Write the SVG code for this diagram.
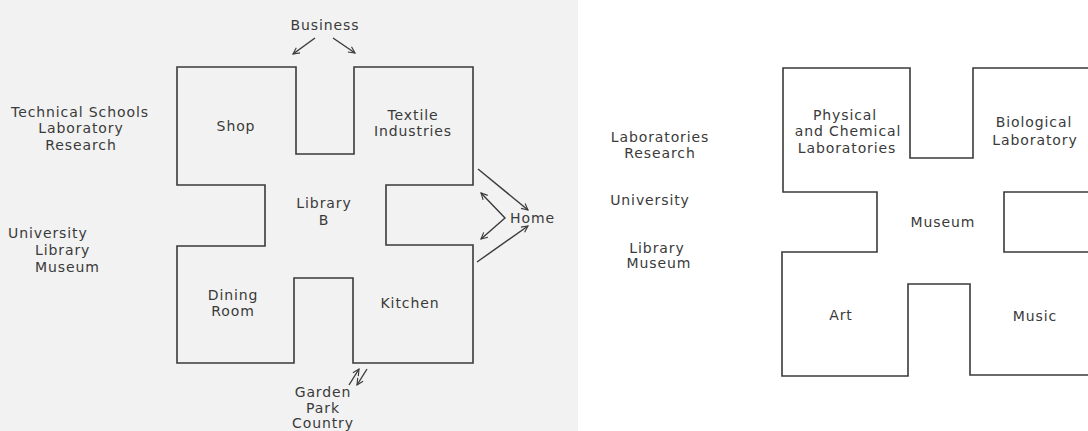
<svg xmlns="http://www.w3.org/2000/svg" width="1088" height="431" viewBox="0 0 1088 431">
<style>
.wall{fill:none;stroke:#3a3a3a;stroke-width:1.6;stroke-linejoin:miter}
.t{font-family:"DejaVu Sans","Noto Sans",sans-serif;font-size:14px;letter-spacing:0.9px;fill:#3a3a3a;text-anchor:middle;dominant-baseline:central}
.tl{text-anchor:start}
.c{fill:none;stroke:#3a3a3a;stroke-width:1.4}
</style>
<defs>
<marker id="ah" viewBox="0 0 10 10" refX="9" refY="5" markerWidth="8" markerHeight="8" markerUnits="userSpaceOnUse" orient="auto-start-reverse">
<path d="M1,1 L9,5 L1,9" fill="none" stroke="#3a3a3a" stroke-width="1.4"/>
</marker>
</defs>
<rect x="0" y="0" width="1088" height="431" fill="#ffffff"/>
<rect x="0" y="0" width="578" height="431" fill="#f2f2f2"/>

<g id="plan-home">
<path class="wall" d="M177,67 H296 V154 H354 V67 H473 V185 H386 V245 H473 V363 H353 V278 H294 V363 H177 V246 H265 V185 H177 Z"/>
</g>
<g id="room-shop"><text class="t" x="236" y="126">Shop</text></g>
<g id="room-textile"><text class="t" x="413" y="115">Textile</text><text class="t" x="413" y="131">Industries</text></g>
<g id="room-library"><text class="t" x="324" y="203">Library</text><text class="t" x="324" y="220">B</text></g>
<g id="room-dining"><text class="t" x="233" y="295">Dining</text><text class="t" x="233" y="311">Room</text></g>
<g id="room-kitchen"><text class="t" x="410" y="303">Kitchen</text></g>

<g id="label-business"><text class="t" x="325" y="25">Business</text></g>
<g id="label-technical"><text class="t" x="80" y="112">Technical Schools</text><text class="t" x="81" y="128">Laboratory</text><text class="t" x="81" y="145">Research</text></g>
<g id="label-university-left"><text class="t tl" x="8" y="233">University</text><text class="t tl" x="35" y="250">Library</text><text class="t tl" x="35" y="267">Museum</text></g>
<g id="label-home"><text class="t tl" x="510" y="218">Home</text></g>
<g id="label-garden"><text class="t" x="323" y="392">Garden</text><text class="t" x="323" y="408">Park</text><text class="t" x="323" y="423">Country</text></g>

<g id="plan-university">
<path class="wall" d="M1090,68 H973 V158 H910 V68 H783 V192 H877 V252 H782 V376 H908 V284 H970 V375 H1090"/>
<path class="wall" d="M1090,192 H1004 V252 H1090"/>
</g>
<g id="room-physical"><text class="t" x="845" y="115">Physical</text><text class="t" x="848" y="131">and Chemical</text><text class="t" x="847" y="148">Laboratories</text></g>
<g id="room-biological"><text class="t" x="1034" y="122">Biological</text><text class="t" x="1035" y="140">Laboratory</text></g>
<g id="room-museum"><text class="t" x="943" y="222">Museum</text></g>
<g id="room-art"><text class="t" x="841" y="315">Art</text></g>
<g id="room-music"><text class="t" x="1035" y="316">Music</text></g>

<g id="label-laboratories"><text class="t" x="660" y="137">Laboratories</text><text class="t" x="660" y="153">Research</text></g>
<g id="label-university-right"><text class="t" x="650" y="200">University</text></g>
<g id="label-library-museum"><text class="t" x="657" y="248">Library</text><text class="t" x="659" y="263">Museum</text></g>

<g id="connectors">
<line class="c" x1="315" y1="38" x2="293" y2="54" marker-end="url(#ah)"/>
<line class="c" x1="333" y1="38" x2="355" y2="53" marker-end="url(#ah)"/>
<line class="c" x1="478" y1="169" x2="528" y2="210" marker-end="url(#ah)"/>
<polyline class="c" points="481,193 505,218 481,239" marker-start="url(#ah)" marker-end="url(#ah)"/>
<line class="c" x1="477" y1="262" x2="528" y2="226" marker-end="url(#ah)"/>
<line class="c" x1="349" y1="385" x2="359" y2="369" marker-end="url(#ah)"/>
<line class="c" x1="367" y1="369" x2="357" y2="385" marker-end="url(#ah)"/>
</g>
</svg>
